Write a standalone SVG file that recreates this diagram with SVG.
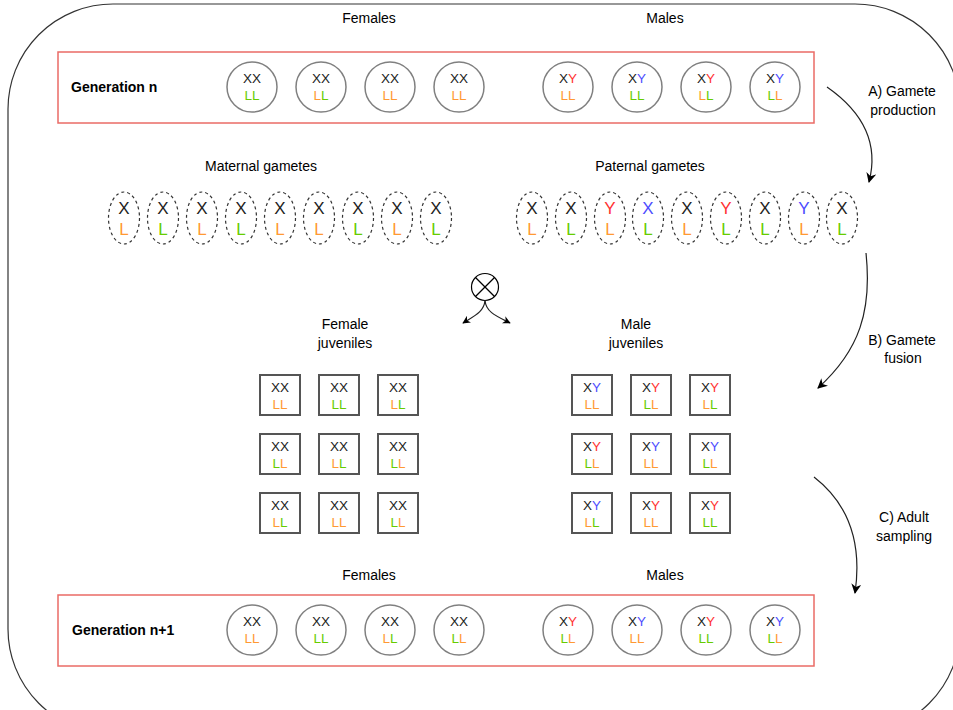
<svg xmlns="http://www.w3.org/2000/svg" width="953" height="710" viewBox="0 0 953 710">
<defs>
<style>
text{font-family:"Liberation Sans",Arial,sans-serif;}
.lbl{font-size:14px;fill:#000;text-anchor:middle;}
.gen{font-size:14px;font-weight:bold;fill:#000;}
.ad{fill:#fff;stroke:#808080;stroke-width:1.5;}
.gm{fill:#fff;stroke:#333;stroke-width:1.2;stroke-dasharray:3 3;}
.jv{fill:#fff;stroke:#555;stroke-width:2;}
.red{fill:none;stroke:#ea6b66;stroke-width:1.5;}
.t12{font-size:13.5px;text-anchor:middle;}
.t16{font-size:17px;text-anchor:middle;}
.k{fill:#222;}
.o{fill:#ff9933;}
.g{fill:#66cc00;}
.r{fill:#ff3333;}
.b{fill:#4d4dff;}
.conn{fill:none;stroke:#222;stroke-width:1.2;}
</style>
<marker id="ah" viewBox="0 0 10 10" refX="9" refY="5" markerWidth="10" markerHeight="10" markerUnits="userSpaceOnUse" orient="auto">
<path d="M0,0 L10,5 L0,10 L3,5 Z" fill="#000"/>
</marker>
<marker id="ahs" viewBox="0 0 10 10" refX="9" refY="5" markerWidth="8" markerHeight="8" markerUnits="userSpaceOnUse" orient="auto">
<path d="M0,0 L10,5 L0,10 L3,5 Z" fill="#000"/>
</marker>
</defs>
<rect width="953" height="710" fill="#fff"/>
<rect id="frame" x="8" y="4" width="952" height="730" rx="105" ry="105" fill="none" stroke="#333" stroke-width="1.2"/>

<g id="labels">
<text class="lbl" x="369" y="23">Females</text>
<text class="lbl" x="665" y="23">Males</text>
<text class="lbl" x="261" y="171">Maternal gametes</text>
<text class="lbl" x="650" y="171">Paternal gametes</text>
<text class="lbl" x="345" y="329">Female</text>
<text class="lbl" x="345" y="348">juveniles</text>
<text class="lbl" x="636" y="329">Male</text>
<text class="lbl" x="636" y="348">juveniles</text>
<text class="lbl" x="369" y="580">Females</text>
<text class="lbl" x="665" y="580">Males</text>
</g>

<g id="generation-n">
<rect class="red" x="58" y="52" width="756" height="71"/>
<text class="gen" x="71" y="92">Generation n</text>
</g>
<g id="gen-n-f1"><circle class="ad" cx="252" cy="87" r="25"/><text class="t12" x="252" y="83"><tspan class="k">XX</tspan></text><text class="t12" x="252" y="100"><tspan class="g">L</tspan><tspan class="g">L</tspan></text></g>
<g id="gen-n-f2"><circle class="ad" cx="321" cy="87" r="25"/><text class="t12" x="321" y="83"><tspan class="k">XX</tspan></text><text class="t12" x="321" y="100"><tspan class="o">L</tspan><tspan class="g">L</tspan></text></g>
<g id="gen-n-f3"><circle class="ad" cx="390" cy="87" r="25"/><text class="t12" x="390" y="83"><tspan class="k">XX</tspan></text><text class="t12" x="390" y="100"><tspan class="o">L</tspan><tspan class="o">L</tspan></text></g>
<g id="gen-n-f4"><circle class="ad" cx="459" cy="87" r="25"/><text class="t12" x="459" y="83"><tspan class="k">XX</tspan></text><text class="t12" x="459" y="100"><tspan class="o">L</tspan><tspan class="o">L</tspan></text></g>
<g id="gen-n-m1"><circle class="ad" cx="568" cy="87" r="25"/><text class="t12" x="568" y="83"><tspan class="k">X</tspan><tspan class="r">Y</tspan></text><text class="t12" x="568" y="100"><tspan class="o">L</tspan><tspan class="o">L</tspan></text></g>
<g id="gen-n-m2"><circle class="ad" cx="637" cy="87" r="25"/><text class="t12" x="637" y="83"><tspan class="k">X</tspan><tspan class="b">Y</tspan></text><text class="t12" x="637" y="100"><tspan class="g">L</tspan><tspan class="g">L</tspan></text></g>
<g id="gen-n-m3"><circle class="ad" cx="706" cy="87" r="25"/><text class="t12" x="706" y="83"><tspan class="k">X</tspan><tspan class="r">Y</tspan></text><text class="t12" x="706" y="100"><tspan class="o">L</tspan><tspan class="g">L</tspan></text></g>
<g id="gen-n-m4"><circle class="ad" cx="775" cy="87" r="25"/><text class="t12" x="775" y="83"><tspan class="k">X</tspan><tspan class="b">Y</tspan></text><text class="t12" x="775" y="100"><tspan class="g">L</tspan><tspan class="o">L</tspan></text></g>

<g id="mat-1"><ellipse class="gm" cx="124" cy="218" rx="15.5" ry="26"/><text class="t16 k" x="124" y="214">X</text><text class="t16 o" x="124" y="235">L</text></g>
<g id="mat-2"><ellipse class="gm" cx="163" cy="218" rx="15.5" ry="26"/><text class="t16 k" x="163" y="214">X</text><text class="t16 g" x="163" y="235">L</text></g>
<g id="mat-3"><ellipse class="gm" cx="202" cy="218" rx="15.5" ry="26"/><text class="t16 k" x="202" y="214">X</text><text class="t16 o" x="202" y="235">L</text></g>
<g id="mat-4"><ellipse class="gm" cx="241" cy="218" rx="15.5" ry="26"/><text class="t16 k" x="241" y="214">X</text><text class="t16 g" x="241" y="235">L</text></g>
<g id="mat-5"><ellipse class="gm" cx="280" cy="218" rx="15.5" ry="26"/><text class="t16 k" x="280" y="214">X</text><text class="t16 o" x="280" y="235">L</text></g>
<g id="mat-6"><ellipse class="gm" cx="319" cy="218" rx="15.5" ry="26"/><text class="t16 k" x="319" y="214">X</text><text class="t16 o" x="319" y="235">L</text></g>
<g id="mat-7"><ellipse class="gm" cx="358" cy="218" rx="15.5" ry="26"/><text class="t16 k" x="358" y="214">X</text><text class="t16 g" x="358" y="235">L</text></g>
<g id="mat-8"><ellipse class="gm" cx="397" cy="218" rx="15.5" ry="26"/><text class="t16 k" x="397" y="214">X</text><text class="t16 o" x="397" y="235">L</text></g>
<g id="mat-9"><ellipse class="gm" cx="436" cy="218" rx="15.5" ry="26"/><text class="t16 k" x="436" y="214">X</text><text class="t16 g" x="436" y="235">L</text></g>

<g id="pat-1"><ellipse class="gm" cx="532" cy="218" rx="15.5" ry="26"/><text class="t16 k" x="532" y="214">X</text><text class="t16 o" x="532" y="235">L</text></g>
<g id="pat-2"><ellipse class="gm" cx="571" cy="218" rx="15.5" ry="26"/><text class="t16 k" x="571" y="214">X</text><text class="t16 g" x="571" y="235">L</text></g>
<g id="pat-3"><ellipse class="gm" cx="610" cy="218" rx="15.5" ry="26"/><text class="t16 r" x="610" y="214">Y</text><text class="t16 o" x="610" y="235">L</text></g>
<g id="pat-4"><ellipse class="gm" cx="648" cy="218" rx="15.5" ry="26"/><text class="t16 b" x="648" y="214">X</text><text class="t16 g" x="648" y="235">L</text></g>
<g id="pat-5"><ellipse class="gm" cx="687" cy="218" rx="15.5" ry="26"/><text class="t16 k" x="687" y="214">X</text><text class="t16 o" x="687" y="235">L</text></g>
<g id="pat-6"><ellipse class="gm" cx="726" cy="218" rx="15.5" ry="26"/><text class="t16 r" x="726" y="214">Y</text><text class="t16 g" x="726" y="235">L</text></g>
<g id="pat-7"><ellipse class="gm" cx="765" cy="218" rx="15.5" ry="26"/><text class="t16 k" x="765" y="214">X</text><text class="t16 g" x="765" y="235">L</text></g>
<g id="pat-8"><ellipse class="gm" cx="804" cy="218" rx="15.5" ry="26"/><text class="t16 b" x="804" y="214">Y</text><text class="t16 o" x="804" y="235">L</text></g>
<g id="pat-9"><ellipse class="gm" cx="842" cy="218" rx="15.5" ry="26"/><text class="t16 k" x="842" y="214">X</text><text class="t16 g" x="842" y="235">L</text></g>

<g id="cross">
<circle cx="485" cy="287" r="13.5" fill="#fff" stroke="#000" stroke-width="1.2"/>
<line x1="475.5" y1="277.5" x2="494.5" y2="296.5" stroke="#000" stroke-width="1.2"/>
<line x1="494.5" y1="277.5" x2="475.5" y2="296.5" stroke="#000" stroke-width="1.2"/>
</g>

<g id="fj-1"><rect class="jv" x="260" y="375" width="40" height="40"/><text class="t12 k" x="280" y="392">XX</text><text class="t12" x="280" y="409"><tspan class="o">L</tspan><tspan class="o">L</tspan></text></g>
<g id="fj-2"><rect class="jv" x="319" y="375" width="40" height="40"/><text class="t12 k" x="339" y="392">XX</text><text class="t12" x="339" y="409"><tspan class="g">L</tspan><tspan class="g">L</tspan></text></g>
<g id="fj-3"><rect class="jv" x="378" y="375" width="40" height="40"/><text class="t12 k" x="398" y="392">XX</text><text class="t12" x="398" y="409"><tspan class="o">L</tspan><tspan class="g">L</tspan></text></g>
<g id="fj-4"><rect class="jv" x="260" y="434" width="40" height="40"/><text class="t12 k" x="280" y="451">XX</text><text class="t12" x="280" y="468"><tspan class="g">L</tspan><tspan class="o">L</tspan></text></g>
<g id="fj-5"><rect class="jv" x="319" y="434" width="40" height="40"/><text class="t12 k" x="339" y="451">XX</text><text class="t12" x="339" y="468"><tspan class="o">L</tspan><tspan class="g">L</tspan></text></g>
<g id="fj-6"><rect class="jv" x="378" y="434" width="40" height="40"/><text class="t12 k" x="398" y="451">XX</text><text class="t12" x="398" y="468"><tspan class="g">L</tspan><tspan class="o">L</tspan></text></g>
<g id="fj-7"><rect class="jv" x="260" y="493" width="40" height="40"/><text class="t12 k" x="280" y="510">XX</text><text class="t12" x="280" y="527"><tspan class="o">L</tspan><tspan class="g">L</tspan></text></g>
<g id="fj-8"><rect class="jv" x="319" y="493" width="40" height="40"/><text class="t12 k" x="339" y="510">XX</text><text class="t12" x="339" y="527"><tspan class="o">L</tspan><tspan class="o">L</tspan></text></g>
<g id="fj-9"><rect class="jv" x="378" y="493" width="40" height="40"/><text class="t12 k" x="398" y="510">XX</text><text class="t12" x="398" y="527"><tspan class="g">L</tspan><tspan class="o">L</tspan></text></g>

<g id="mj-1"><rect class="jv" x="572" y="375" width="40" height="40"/><text class="t12" x="592" y="392"><tspan class="k">X</tspan><tspan class="b">Y</tspan></text><text class="t12" x="592" y="409"><tspan class="o">L</tspan><tspan class="o">L</tspan></text></g>
<g id="mj-2"><rect class="jv" x="631" y="375" width="40" height="40"/><text class="t12" x="651" y="392"><tspan class="k">X</tspan><tspan class="r">Y</tspan></text><text class="t12" x="651" y="409"><tspan class="g">L</tspan><tspan class="o">L</tspan></text></g>
<g id="mj-3"><rect class="jv" x="690" y="375" width="40" height="40"/><text class="t12" x="710" y="392"><tspan class="k">X</tspan><tspan class="r">Y</tspan></text><text class="t12" x="710" y="409"><tspan class="o">L</tspan><tspan class="g">L</tspan></text></g>
<g id="mj-4"><rect class="jv" x="572" y="434" width="40" height="40"/><text class="t12" x="592" y="451"><tspan class="k">X</tspan><tspan class="r">Y</tspan></text><text class="t12" x="592" y="468"><tspan class="g">L</tspan><tspan class="o">L</tspan></text></g>
<g id="mj-5"><rect class="jv" x="631" y="434" width="40" height="40"/><text class="t12" x="651" y="451"><tspan class="k">X</tspan><tspan class="b">Y</tspan></text><text class="t12" x="651" y="468"><tspan class="o">L</tspan><tspan class="o">L</tspan></text></g>
<g id="mj-6"><rect class="jv" x="690" y="434" width="40" height="40"/><text class="t12" x="710" y="451"><tspan class="k">X</tspan><tspan class="b">Y</tspan></text><text class="t12" x="710" y="468"><tspan class="g">L</tspan><tspan class="o">L</tspan></text></g>
<g id="mj-7"><rect class="jv" x="572" y="493" width="40" height="40"/><text class="t12" x="592" y="510"><tspan class="k">X</tspan><tspan class="b">Y</tspan></text><text class="t12" x="592" y="527"><tspan class="o">L</tspan><tspan class="g">L</tspan></text></g>
<g id="mj-8"><rect class="jv" x="631" y="493" width="40" height="40"/><text class="t12" x="651" y="510"><tspan class="k">X</tspan><tspan class="r">Y</tspan></text><text class="t12" x="651" y="527"><tspan class="o">L</tspan><tspan class="o">L</tspan></text></g>
<g id="mj-9"><rect class="jv" x="690" y="493" width="40" height="40"/><text class="t12" x="710" y="510"><tspan class="k">X</tspan><tspan class="r">Y</tspan></text><text class="t12" x="710" y="527"><tspan class="g">L</tspan><tspan class="g">L</tspan></text></g>

<g id="generation-n1">
<rect class="red" x="58" y="595" width="756" height="71"/>
<text class="gen" x="72" y="635">Generation n+1</text>
</g>
<g id="gen-n1-f1"><circle class="ad" cx="252" cy="630" r="25"/><text class="t12 k" x="252" y="626">XX</text><text class="t12" x="252" y="643"><tspan class="o">L</tspan><tspan class="o">L</tspan></text></g>
<g id="gen-n1-f2"><circle class="ad" cx="321" cy="630" r="25"/><text class="t12 k" x="321" y="626">XX</text><text class="t12" x="321" y="643"><tspan class="g">L</tspan><tspan class="g">L</tspan></text></g>
<g id="gen-n1-f3"><circle class="ad" cx="390" cy="630" r="25"/><text class="t12 k" x="390" y="626">XX</text><text class="t12" x="390" y="643"><tspan class="o">L</tspan><tspan class="g">L</tspan></text></g>
<g id="gen-n1-f4"><circle class="ad" cx="459" cy="630" r="25"/><text class="t12 k" x="459" y="626">XX</text><text class="t12" x="459" y="643"><tspan class="g">L</tspan><tspan class="o">L</tspan></text></g>
<g id="gen-n1-m1"><circle class="ad" cx="568" cy="630" r="25"/><text class="t12" x="568" y="626"><tspan class="k">X</tspan><tspan class="r">Y</tspan></text><text class="t12" x="568" y="643"><tspan class="g">L</tspan><tspan class="o">L</tspan></text></g>
<g id="gen-n1-m2"><circle class="ad" cx="637" cy="630" r="25"/><text class="t12" x="637" y="626"><tspan class="k">X</tspan><tspan class="b">Y</tspan></text><text class="t12" x="637" y="643"><tspan class="o">L</tspan><tspan class="o">L</tspan></text></g>
<g id="gen-n1-m3"><circle class="ad" cx="706" cy="630" r="25"/><text class="t12" x="706" y="626"><tspan class="k">X</tspan><tspan class="r">Y</tspan></text><text class="t12" x="706" y="643"><tspan class="g">L</tspan><tspan class="g">L</tspan></text></g>
<g id="gen-n1-m4"><circle class="ad" cx="775" cy="630" r="25"/><text class="t12" x="775" y="626"><tspan class="k">X</tspan><tspan class="b">Y</tspan></text><text class="t12" x="775" y="643"><tspan class="g">L</tspan><tspan class="o">L</tspan></text></g>

<g id="connectors">
<path class="conn" d="M827,87 C860,110 880,140 869,182" marker-end="url(#ah)"/>
<path class="conn" d="M866,253 C872,310 860,350 818,388" marker-end="url(#ah)"/>
<path class="conn" d="M814,477 C850,505 862,545 855,593" marker-end="url(#ah)"/>
<path class="conn" d="M485,300.5 C484,312 474,316 463,323" marker-end="url(#ahs)"/>
<path class="conn" d="M485,300.5 C486,312 496,316 510,323" marker-end="url(#ahs)"/>
</g>

<g id="step-labels">
<text class="lbl" x="902" y="96">A) Gamete</text>
<text class="lbl" x="903" y="115">production</text>
<text class="lbl" x="902" y="345">B) Gamete</text>
<text class="lbl" x="903" y="363">fusion</text>
<text class="lbl" x="904" y="522">C) Adult</text>
<text class="lbl" x="904" y="541">sampling</text>
</g>
</svg>
